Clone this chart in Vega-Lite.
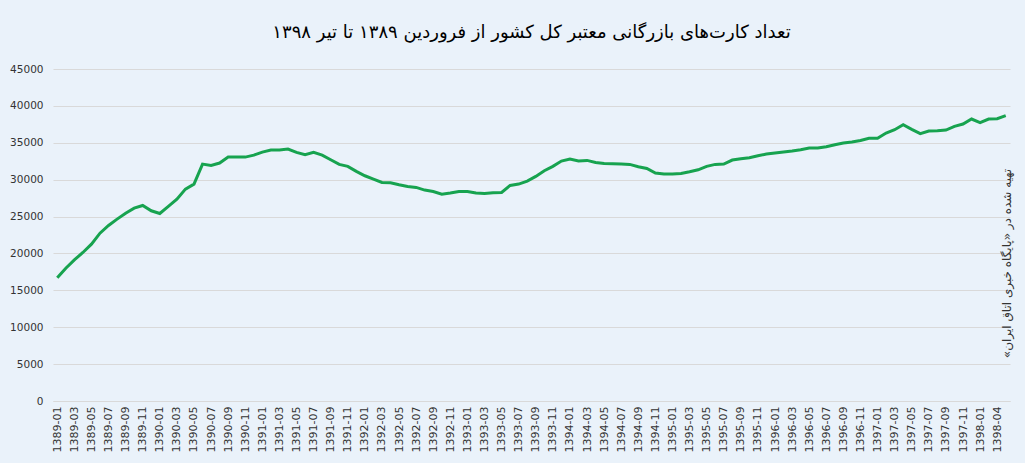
{
  "$schema": "https://vega.github.io/schema/vega-lite/v6.json",
  "autosize": "none",
  "width": 957,
  "height": 332,
  "padding": {"left": 53, "top": 69, "right": 15, "bottom": 62},
  "background": "#eaf2fa",
  "title": {
    "text": "\u202bتعداد کارت‌های بازرگانی معتبر کل کشور از فروردین ۱۳۸۹ تا تیر ۱۳۹۸\u202c",
    "font": "DejaVu Sans",
    "fontSize": 18,
    "fontWeight": "normal",
    "color": "#000000",
    "anchor": "middle",
    "offset": 22
  },
  "data": {
    "values": [
      {"m": "1389-01", "v": 16700}, {"m": "1389-02", "v": 18000}, {"m": "1389-03", "v": 19130}, {"m": "1389-04", "v": 20130},
      {"m": "1389-05", "v": 21260}, {"m": "1389-06", "v": 22750}, {"m": "1389-07", "v": 23790}, {"m": "1389-08", "v": 24650},
      {"m": "1389-09", "v": 25460}, {"m": "1389-10", "v": 26140}, {"m": "1389-11", "v": 26500}, {"m": "1389-12", "v": 25780},
      {"m": "1390-01", "v": 25420}, {"m": "1390-02", "v": 26370}, {"m": "1390-03", "v": 27360}, {"m": "1390-04", "v": 28720},
      {"m": "1390-05", "v": 29400}, {"m": "1390-06", "v": 32110}, {"m": "1390-07", "v": 31930}, {"m": "1390-08", "v": 32250},
      {"m": "1390-09", "v": 33060}, {"m": "1390-10", "v": 33060}, {"m": "1390-11", "v": 33060}, {"m": "1390-12", "v": 33330},
      {"m": "1391-01", "v": 33740}, {"m": "1391-02", "v": 34010}, {"m": "1391-03", "v": 34010}, {"m": "1391-04", "v": 34150},
      {"m": "1391-05", "v": 33700}, {"m": "1391-06", "v": 33380}, {"m": "1391-07", "v": 33700}, {"m": "1391-08", "v": 33330},
      {"m": "1391-09", "v": 32700}, {"m": "1391-10", "v": 32070}, {"m": "1391-11", "v": 31800}, {"m": "1391-12", "v": 31120},
      {"m": "1392-01", "v": 30530}, {"m": "1392-02", "v": 30080}, {"m": "1392-03", "v": 29630}, {"m": "1392-04", "v": 29580},
      {"m": "1392-05", "v": 29310}, {"m": "1392-06", "v": 29080}, {"m": "1392-07", "v": 28950}, {"m": "1392-08", "v": 28590},
      {"m": "1392-09", "v": 28400}, {"m": "1392-10", "v": 28040}, {"m": "1392-11", "v": 28180}, {"m": "1392-12", "v": 28400},
      {"m": "1393-01", "v": 28400}, {"m": "1393-02", "v": 28180}, {"m": "1393-03", "v": 28130}, {"m": "1393-04", "v": 28220},
      {"m": "1393-05", "v": 28270}, {"m": "1393-06", "v": 29220}, {"m": "1393-07", "v": 29400}, {"m": "1393-08", "v": 29810},
      {"m": "1393-09", "v": 30440}, {"m": "1393-10", "v": 31210}, {"m": "1393-11", "v": 31800}, {"m": "1393-12", "v": 32520},
      {"m": "1394-01", "v": 32790}, {"m": "1394-02", "v": 32520}, {"m": "1394-03", "v": 32610}, {"m": "1394-04", "v": 32340},
      {"m": "1394-05", "v": 32200}, {"m": "1394-06", "v": 32160}, {"m": "1394-07", "v": 32110}, {"m": "1394-08", "v": 32070},
      {"m": "1394-09", "v": 31750}, {"m": "1394-10", "v": 31520}, {"m": "1394-11", "v": 30890}, {"m": "1394-12", "v": 30760},
      {"m": "1395-01", "v": 30760}, {"m": "1395-02", "v": 30850}, {"m": "1395-03", "v": 31080}, {"m": "1395-04", "v": 31340},
      {"m": "1395-05", "v": 31800}, {"m": "1395-06", "v": 32070}, {"m": "1395-07", "v": 32110}, {"m": "1395-08", "v": 32660},
      {"m": "1395-09", "v": 32840}, {"m": "1395-10", "v": 32970}, {"m": "1395-11", "v": 33240}, {"m": "1395-12", "v": 33470},
      {"m": "1396-01", "v": 33610}, {"m": "1396-02", "v": 33740}, {"m": "1396-03", "v": 33880}, {"m": "1396-04", "v": 34060},
      {"m": "1396-05", "v": 34280}, {"m": "1396-06", "v": 34280}, {"m": "1396-07", "v": 34460}, {"m": "1396-08", "v": 34740},
      {"m": "1396-09", "v": 34960}, {"m": "1396-10", "v": 35100}, {"m": "1396-11", "v": 35320}, {"m": "1396-12", "v": 35600},
      {"m": "1397-01", "v": 35600}, {"m": "1397-02", "v": 36320}, {"m": "1397-03", "v": 36770}, {"m": "1397-04", "v": 37450},
      {"m": "1397-05", "v": 36820}, {"m": "1397-06", "v": 36230}, {"m": "1397-07", "v": 36590}, {"m": "1397-08", "v": 36640},
      {"m": "1397-09", "v": 36730}, {"m": "1397-10", "v": 37220}, {"m": "1397-11", "v": 37540}, {"m": "1397-12", "v": 38220},
      {"m": "1398-01", "v": 37720}, {"m": "1398-02", "v": 38220}, {"m": "1398-04", "v": 38260}, {"m": "1398-05", "v": 38670}
    ]
  },
  "encoding": {
    "x": {
      "field": "m",
      "type": "ordinal",
      "sort": null,
      "scale": {"type": "point", "padding": 0.5},
      "title": null,
      "axis": {
        "values": [
          "1389-01", "1389-03", "1389-05", "1389-07", "1389-09", "1389-11",
          "1390-01", "1390-03", "1390-05", "1390-07", "1390-09", "1390-11",
          "1391-01", "1391-03", "1391-05", "1391-07", "1391-09", "1391-11",
          "1392-01", "1392-03", "1392-05", "1392-07", "1392-09", "1392-11",
          "1393-01", "1393-03", "1393-05", "1393-07", "1393-09", "1393-11",
          "1394-01", "1394-03", "1394-05", "1394-07", "1394-09", "1394-11",
          "1395-01", "1395-03", "1395-05", "1395-07", "1395-09", "1395-11",
          "1396-01", "1396-03", "1396-05", "1396-07", "1396-09", "1396-11",
          "1397-01", "1397-03", "1397-05", "1397-07", "1397-09", "1397-11",
          "1398-01", "1398-04"
        ],
        "labelAngle": -90,
        "labelFont": "DejaVu Sans",
        "labelFontSize": 11,
        "labelColor": "#333333",
        "labelPadding": 5,
        "ticks": false,
        "domainColor": "#d9d9d9",
        "grid": false
      }
    },
    "y": {
      "field": "v",
      "type": "quantitative",
      "scale": {"domain": [0, 45000], "nice": false},
      "title": null
    }
  },
  "layer": [
    {
      "mark": {"type": "line", "color": "#17a34f", "strokeWidth": 3},
      "encoding": {
        "y": {
          "field": "v",
          "type": "quantitative",
          "scale": {"domain": [0, 45000], "nice": false},
          "title": null,
          "axis": {
            "values": [0, 5000, 10000, 15000, 20000, 25000, 30000, 35000, 40000, 45000],
            "format": "d",
            "labelFont": "DejaVu Sans",
            "labelFontSize": 10.5,
            "labelColor": "#333333",
            "labelPadding": 10,
            "ticks": false,
            "domain": false,
            "gridColor": "#d9d9d9",
            "gridWidth": 1
          }
        }
      }
    },
    {
      "mark": {"type": "line", "opacity": 0},
      "encoding": {
        "y": {
          "field": "v",
          "type": "quantitative",
          "scale": {"domain": [0, 45000], "nice": false},
          "title": "\u202bتهیه شده در «پایگاه خبری اتاق ایران»\u202c",
          "axis": {
            "orient": "right",
            "labels": false,
            "ticks": false,
            "domain": false,
            "grid": false,
            "titleAngle": 270,
            "titleX": -4,
            "titleY": 194,
            "titleAlign": "center",
            "titleBaseline": "middle",
            "titleFont": "DejaVu Sans",
            "titleFontSize": 12,
            "titleFontWeight": "normal",
            "titleColor": "#333333"
          }
        }
      }
    }
  ],
  "resolve": {"axis": {"y": "independent"}},
  "config": {"view": {"stroke": null}}
}
